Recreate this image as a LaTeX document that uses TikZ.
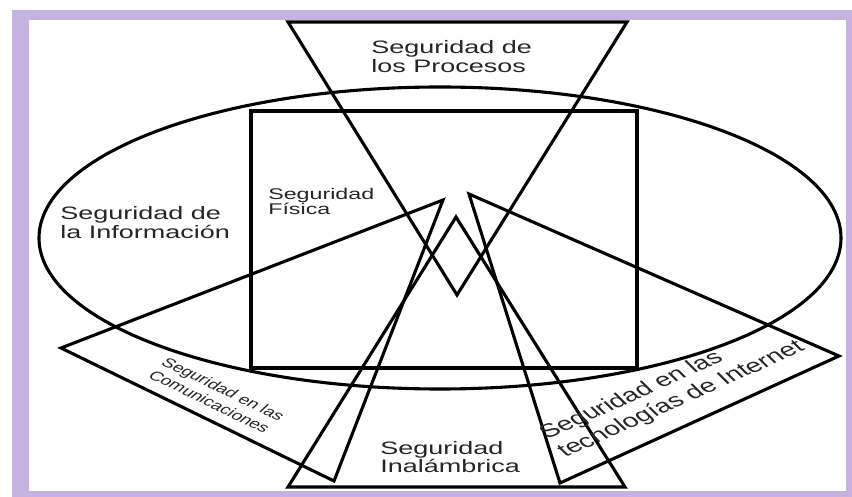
\documentclass[tikz,border=0pt]{standalone}
\usepackage{fontspec}
\setmainfont{Liberation Sans}
\definecolor{framepurple}{RGB}{198,178,224}
\begin{document}
\begin{tikzpicture}[x=1pt,y=-1pt,
  shapeline/.style={draw=black, line width=3.1pt, line join=miter},
  lbl/.style={inner sep=0pt, text=black!85, anchor=base west, font=\fontsize{18}{20}\selectfont},
  smalllbl/.style={lbl, font=\fontsize{13}{15}\selectfont},
  midlbl/.style={lbl, font=\fontsize{15.5}{17}\selectfont},
  netlbl/.style={lbl, font=\fontsize{19}{21}\selectfont}]
\useasboundingbox (0,0) rectangle (852,497);
\fill[framepurple] (12,10) rectangle (852,497);
\fill[white] (29,20) rectangle (846,491);
% shapes
\draw[shapeline] (440,238) ellipse [x radius=401, y radius=151];
\draw[shapeline] (251,111) rectangle (637,368);
\draw[shapeline] (288,22) -- (627,22) -- (457,295) -- cycle;
\draw[shapeline] (443,200) -- (61,348) -- (334,481) -- cycle;
\draw[shapeline] (469,194) -- (839,356) -- (560,483) -- cycle;
\draw[shapeline] (456,217) -- (288,487) -- (625,487) -- cycle;
% labels (stretched horizontally like the reference)
\begin{scope}[xscale=1.5, x=0.666667pt, transform shape]
\node[lbl] (procA) at (371,54) {Seguridad de};
\node[lbl] (procB) at (371,73) {los Procesos};
\node[lbl] (infoA) at (60,220) {Seguridad de};
\node[lbl] (infoB) at (60,239) {la Información};
\node[midlbl] (fisA) at (268,200) {Seguridad};
\node[midlbl] (fisB) at (268,215) {Física};
\node[lbl] (inalA) at (380,454) {Seguridad};
\node[lbl] (inalB) at (380,472) {Inalámbrica};
\node[smalllbl, rotate=-36] (comA) at (160,364) {Seguridad en las};
\node[smalllbl, rotate=-36] (comB) at (147,377) {Comunicaciones};
\node[netlbl, rotate=34] (intA) at (547,440) {Seguridad en las};
\node[netlbl, rotate=34] (intB) at (565,458) {tecnologías de Internet};
\end{scope}
\end{tikzpicture}
\end{document}
